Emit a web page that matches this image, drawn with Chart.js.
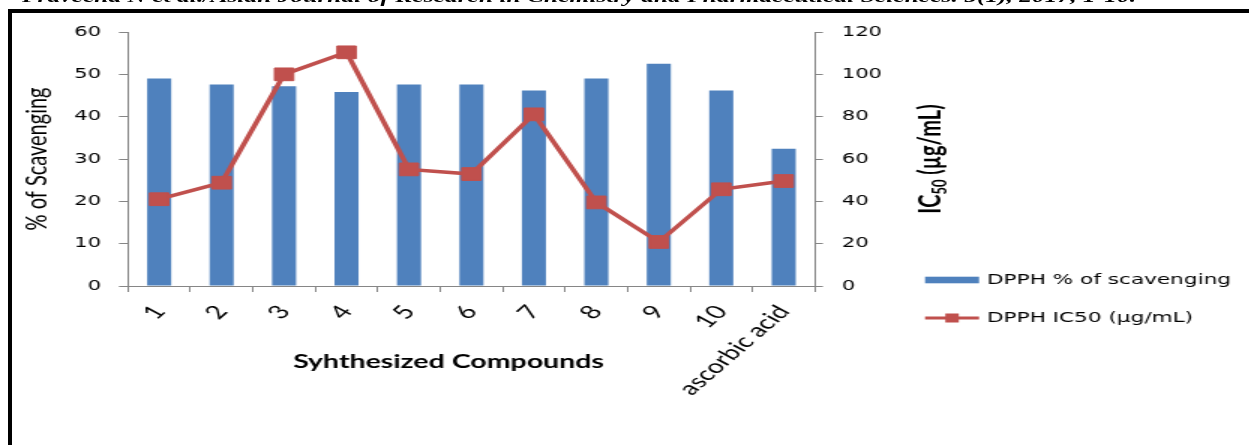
<!DOCTYPE html>
<html>
<head>
<meta charset="utf-8">
<style>
  html, body { margin: 0; padding: 0; background: #fff; overflow: hidden; }
  body { width: 1249px; height: 445px; position: relative; }
  #box { position: absolute; left: 8px; top: 9px; width: 1300px; height: 500px;
         border-left: 4px solid #000; border-top: 4px solid #000; }
  /* the reference is a horizontally stretched scan, so the whole chart is stretched too */
  #stretch { position: absolute; left: 0; top: 0; width: 833px; height: 445px;
             transform-origin: 0 0; transform: scaleX(1.5); }
  #header { position: absolute; left: 14.7px; top: -12px; white-space: nowrap;
            font: italic bold 17px "Liberation Serif", serif; line-height: 17px; color: #000; }
  canvas { position: absolute; left: 0; top: 0; }
</style>
</head>
<body>
<div id="box"></div>
<div id="stretch">
  <div id="header">Praveena N et al./Asian Journal of Research in Chemistry and Pharmaceutical Sciences. 5(1), 2017, 1-10.</div>
  <canvas id="chart" width="833" height="445"></canvas>
</div>

<script src="https://cdn.jsdelivr.net/npm/chart.js"></script>
<script>
const categories = ['1', '2', '3', '4', '5', '6', '7', '8', '9', '10', 'ascorbic acid'];
const scavenging = [49, 47.6, 47.2, 45.8, 47.6, 47.6, 46.2, 49, 52.5, 46.2, 32.4];
const ic50 = [41, 48.8, 100, 110.4, 55.1, 52.9, 81.1, 39.5, 20.8, 45.7, 49.6];

const blue = '#4F81BD';
const red = '#C0504D';
const axisGray = '#868686';

// axis titles that Chart.js can't place like Excel did + the legend on the right
const extraText = {
  id: 'extraText',
  afterDraw(chart) {
    const ctx = chart.ctx;
    const area = chart.chartArea;
    ctx.save();
    ctx.fillStyle = '#000';

    // x title (Excel put it a bit left of centre)
    ctx.font = 'bold 19px Lato';
    ctx.textAlign = 'center';
    ctx.textBaseline = 'middle';
    ctx.fillText('Syhthesized Compounds', 299, 362);

    // right title, reading bottom to top, with a real subscript
    ctx.translate(620, (area.top + area.bottom) / 2);
    ctx.rotate(-Math.PI / 2);
    ctx.textAlign = 'left';
    ctx.textBaseline = 'alphabetic';
    const big = 'bold 20px Lato', small = 'bold 13px Lato';
    ctx.font = big; const w1 = ctx.measureText('IC').width;
    ctx.font = small; const w2 = ctx.measureText('50').width;
    ctx.font = big; const w3 = ctx.measureText(' (µg/mL)').width;
    let x = -(w1 + w2 + w3) / 2;
    const base = 7;
    ctx.font = big; ctx.fillText('IC', x, base); x += w1;
    ctx.font = small; ctx.fillText('50', x, base + 4); x += w2;
    ctx.font = big; ctx.fillText(' (µg/mL)', x, base);
    ctx.restore();

    // legend
    ctx.save();
    const bars = chart.data.datasets[1];
    const line = chart.data.datasets[0];
    const lx = 616.7, lw = 36, tx = 658;
    ctx.font = '14.4px "DejaVu Sans"';
    ctx.textBaseline = 'middle';
    ctx.textAlign = 'left';
    ctx.fillStyle = bars.backgroundColor;
    ctx.fillRect(lx, 276.7, lw, 6.6);
    ctx.fillStyle = '#000';
    ctx.fillText(bars.label, tx, 280);

    ctx.strokeStyle = line.borderColor;
    ctx.lineWidth = 3;
    ctx.beginPath();
    ctx.moveTo(lx, 318);
    ctx.lineTo(lx + lw, 318);
    ctx.stroke();
    ctx.fillStyle = line.borderColor;
    ctx.fillRect(lx + lw / 2 - 4.5, 318 - 4.5, 9, 9);
    ctx.fillStyle = '#000';
    ctx.fillText(line.label, tx, 318);
    ctx.restore();
  }
};

new Chart(document.getElementById('chart'), {
  type: 'bar',
  data: {
    labels: categories,
    datasets: [
      {
        type: 'line',
        label: 'DPPH IC50 (µg/mL)',
        data: ic50,
        yAxisID: 'y1',
        borderColor: red,
        backgroundColor: red,
        borderWidth: 3.5,
        tension: 0,
        pointStyle: 'rect',
        pointRadius: 9,
        pointBorderWidth: 1,
        pointBackgroundColor: red,
        pointBorderColor: red,
        order: 0
      },
      {
        type: 'bar',
        label: 'DPPH % of scavenging',
        data: scavenging,
        yAxisID: 'y',
        backgroundColor: blue,
        barPercentage: 0.385,
        categoryPercentage: 1,
        order: 1
      }
    ]
  },
  options: {
    responsive: false,
    animation: false,
    devicePixelRatio: 1,
    layout: { padding: { left: 8, top: 32, right: 0, bottom: 0 } },
    plugins: {
      legend: { display: false },
      tooltip: { enabled: false }
    },
    scales: {
      x: {
        offset: true,
        grid: { offset: true, drawOnChartArea: false, tickLength: 6, color: axisGray },
        border: { color: axisGray },
        ticks: {
          autoSkip: false, minRotation: 52, maxRotation: 52, padding: 9,
          color: '#000', font: { family: 'Lato', size: 19 }
        },
        afterFit(s) { s.height = 159; }
      },
      y: {
        position: 'left',
        min: 0, max: 60,
        ticks: { stepSize: 10, padding: 12, color: '#000', font: { family: 'DejaVu Sans', size: 14 } },
        grid: { drawOnChartArea: false, tickLength: 6, color: axisGray },
        border: { color: axisGray },
        title: {
          display: true, text: '% of Scavenging', color: '#000',
          font: { family: 'Lato', size: 20 },
          padding: { top: 5, bottom: 0 }
        },
        afterFit(s) { s.width = 77.3; }
      },
      y1: {
        position: 'right',
        min: 0, max: 120,
        ticks: { stepSize: 20, padding: 12.7, color: '#000', font: { family: 'DejaVu Sans', size: 14 } },
        grid: { drawOnChartArea: false, tickLength: 5.3, color: axisGray },
        border: { color: axisGray },
        afterFit(s) { s.width = 833 - 543.3; }
      }
    }
  },
  plugins: [extraText]
});
</script>
</body>
</html>
